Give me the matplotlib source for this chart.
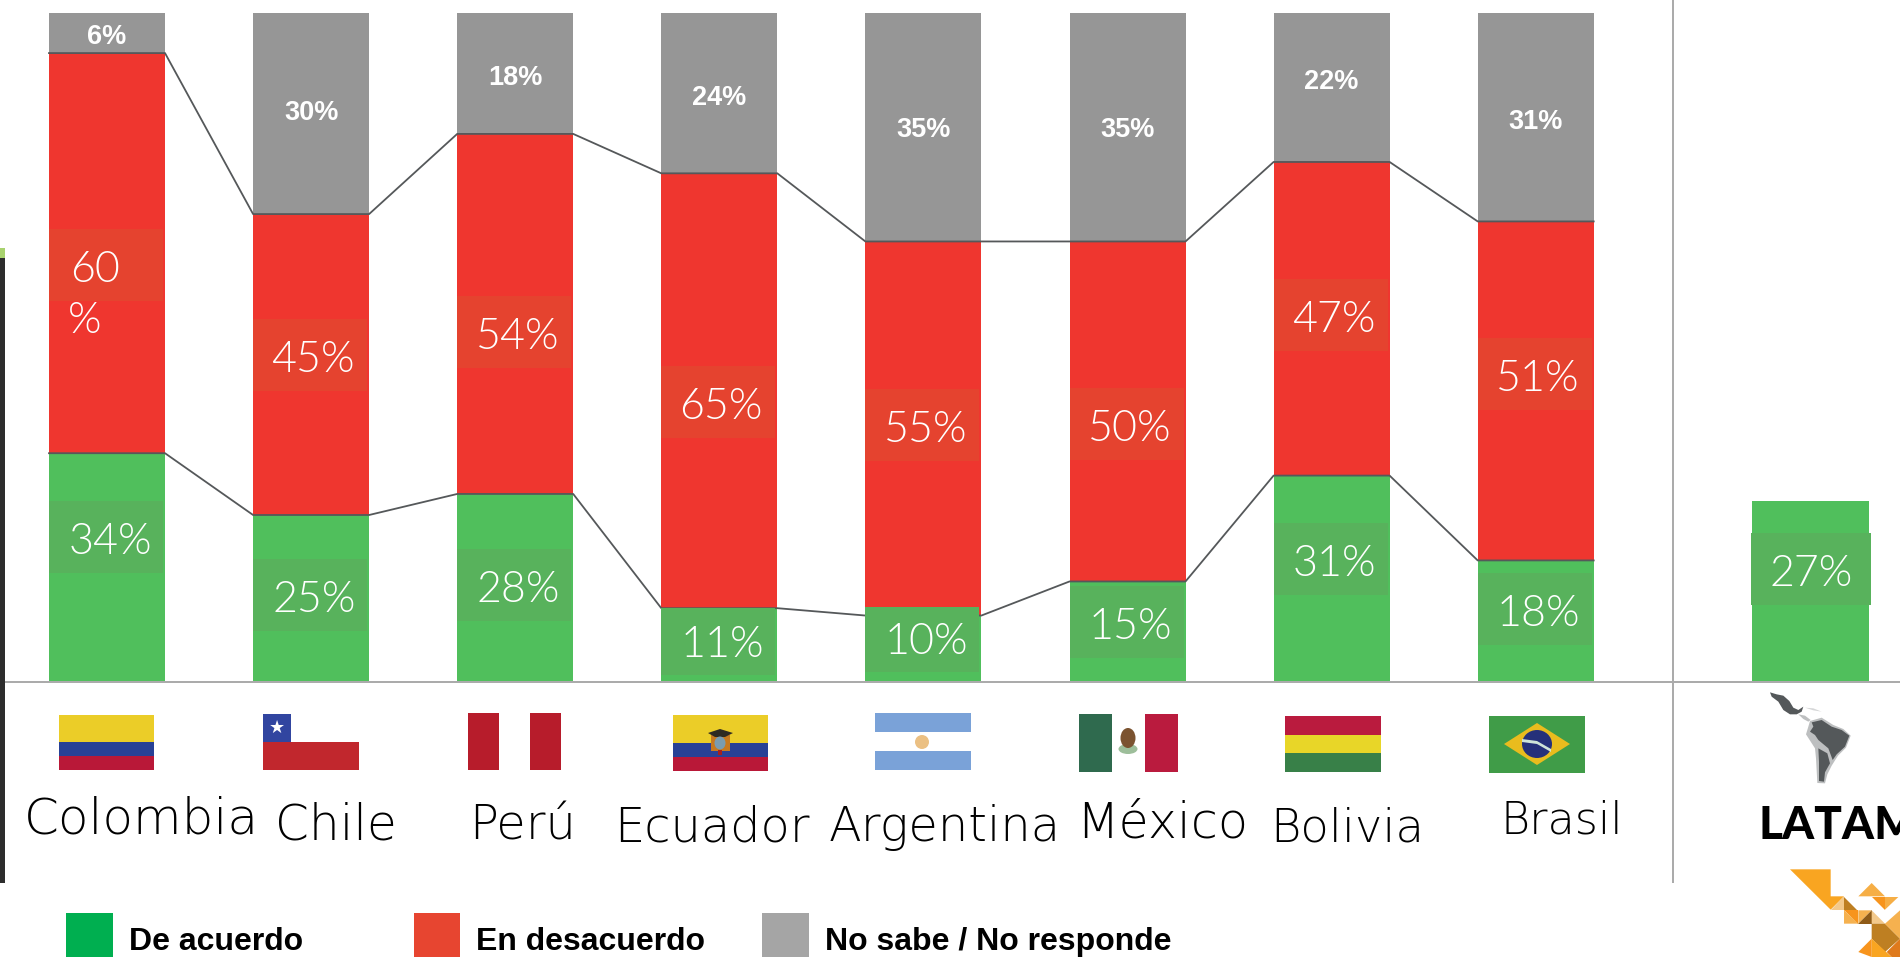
import matplotlib
matplotlib.use("Agg")
import matplotlib.pyplot as plt
import numpy as np
from matplotlib.patches import Rectangle, Polygon, Circle, Ellipse
from matplotlib.transforms import Affine2D

W, H = 1900, 957

### Data ###

countries = ["Colombia", "Chile", "Perú", "Ecuador", "Argentina", "México", "Bolivia", "Brasil"]
# printed percentages
de_acuerdo = [34, 25, 28, 11, 10, 15, 31, 18]
en_desacuerdo = [60, 45, 54, 65, 55, 50, 47, 51]
no_sabe = [6, 30, 18, 24, 35, 35, 22, 31]
# segment heights as measured on the bars, they differ a bit from the printed numbers
h_acuerdo = [34.1, 24.85, 28.0, 10.9, 9.8, 14.9, 30.75, 18.05]
h_desacuerdo = [59.9, 45.05, 53.9, 65.1, 56.0, 50.9, 46.95, 50.75]
h_no_sabe = [6.0, 30.1, 18.1, 24.0, 34.2, 34.2, 22.3, 31.2]
latam_name = "LATAM"
latam_acuerdo = 27
legend_labels = ["De acuerdo", "En desacuerdo", "No sabe / No responde"]

### Layout, in reference pixels ###

bar_left = 49
bar_step = 204.1
bar_w = 116
latam_left = 1752
latam_w = 117
base_y = 681
px_per_pct = 6.68
name_x = [24, 275, 469, 614, 829, 1076, 1270, 1501]
name_base = [834, 840, 840, 841, 841, 838, 841, 833]
name_size = [36, 35, 34.5, 34.5, 34.5, 35.5, 33.5, 32]
red_box = [229, 319, 296, 366, 389, 388, 279, 338]
green_box = [501, 559, 549, 608, 607, 586, 523, 573]
green_box_h = [72, 72, 72, 67, 65, 72, 72, 72]
green_text = [554, 612, 602, 657, 654, 639, 576, 626]
gray_text = [37, 113, 78, 98, 130, 130, 82, 122]

GREEN = "#50BF5C"
RED = "#EF362F"
GRAY = "#969696"
GREEN_BOX = "#58B25C"
RED_BOX = "#E5432F"
LINE = "#55585A"
RULE = "#ABABAB"
NUM_FONT = "Lato"
NUM_WEIGHT = 300
NAME_FONT = "DejaVu Sans"
NAME_WEIGHT = 200

fig = plt.figure(figsize=(W / 100, H / 100), dpi=100)
ax = fig.add_axes([0, 0, 1, 1])
ax.set_xlim(0, W)
ax.set_ylim((base_y - H) / px_per_pct, base_y / px_per_pct)
ax.axis("off")

# pixel coordinates of the reference, y downwards
px = Affine2D().scale(1 / W, -1 / H).translate(0, 1) + fig.transFigure


def rect(x0, y0, x1, y1, color, z=5):
    ax.add_patch(Rectangle((x0, y0), x1 - x0, y1 - y0, fc=color, ec="none", transform=px, zorder=z))


def poly(points, color, z=5, off=(0, 0), sc=1.0):
    pts = [(off[0] + a * sc, off[1] + b * sc) for a, b in points]
    ax.add_patch(Polygon(pts, closed=True, fc=color, ec="none", transform=px, zorder=z))


def text(x, y, s, size, color="black", weight="normal", family="Lato", ha="left", va="baseline", z=8):
    return ax.text(x, y, s, fontsize=size, color=color, fontweight=weight, family=family,
                   ha=ha, va=va, transform=px, zorder=z, clip_on=True)


def num(x, y, s, ha="center"):
    return text(x, y, s, 31, "white", NUM_WEIGHT, NUM_FONT, ha=ha)


### Bars ###

lefts = bar_left + bar_step * np.arange(len(countries))
a = np.array(h_acuerdo)
d = np.array(h_desacuerdo)
n = np.array(h_no_sabe)
ax.bar(lefts, a, bar_w, align="edge", color=GREEN, zorder=2)
ax.bar(lefts, d, bar_w, bottom=a, align="edge", color=RED, zorder=2)
ax.bar(lefts, n, bar_w, bottom=a + d, align="edge", color=GRAY, zorder=2)
ax.bar([latam_left], [latam_acuerdo], latam_w, align="edge", color=GREEN, zorder=2)

# connecting lines between the bars
xs = np.ravel(np.column_stack((lefts, lefts + bar_w)))
ax.plot(xs, np.repeat(a, 2), color=LINE, lw=1.3, zorder=5)
ax.plot(xs, np.repeat(a + d, 2), color=LINE, lw=1.3, zorder=5)

### Value labels ###

for i, left in enumerate(lefts):
    cx = left + bar_w / 2
    rect(left, red_box[i], left + 114, red_box[i] + 72, RED_BOX, 4)
    rect(left, green_box[i], left + 114, green_box[i] + green_box_h[i], GREEN_BOX, 6)
    if i == 0:
        num(left + 21, red_box[i] + 53, f"{en_desacuerdo[i]}", ha="left")
        num(left + 19, red_box[i] + 104, "%", ha="left")
    else:
        num(cx + 2, red_box[i] + 53, f"{en_desacuerdo[i]}%")
    num(cx + 3, green_text[i], f"{de_acuerdo[i]}%")
    text(cx, gray_text[i], f"{no_sabe[i]}%", 19.5, "white", "bold", "Liberation Sans", ha="center", va="center")

rect(latam_left - 1, 533, 1871, 605, GREEN_BOX, 4)
num(1811, 586, f"{latam_acuerdo}%")

### Rules ###

rect(0, 681, W, 683, RULE, 3)
rect(1672, 0, 1674, 883, RULE, 3)
rect(0, 258, 5, 883, "#2D2D2D", 3)
rect(0, 248, 5, 258, "#A8D26E", 3)

### Country names ###

for x, y, name, size in zip(name_x, name_base, countries, name_size):
    text(x, y, name, size, "black", NAME_WEIGHT, NAME_FONT)
text(1758, 839, latam_name, 33, "black", "black", "Lato")

### Flags ###

# Colombia
rect(59, 715, 154, 742, "#EBCD28")
rect(59, 742, 154, 756, "#284196")
rect(59, 756, 154, 770, "#B91838")
# Chile
rect(263, 714, 291, 742, "#3145A0")
rect(263, 742, 359, 770, "#C1272D")
text(277, 728, "★", 13, "white", family="DejaVu Sans", ha="center", va="center")
# Perú
rect(468, 713, 499, 770, "#B71C2B")
rect(530, 713, 561, 770, "#B71C2B")
# Ecuador
rect(673, 715, 768, 743, "#EBCD28")
rect(673, 743, 768, 757, "#284196")
rect(673, 757, 768, 771, "#B91838")
rect(711, 735, 730, 751, "#C8791E", 6)
poly([(708, 733), (720, 729), (733, 733), (725, 737), (715, 737)], "#2E2A22", 6)
ax.add_patch(Ellipse((720, 743), 11, 13, fc="#7A9CB0", ec="none", transform=px, zorder=7))
rect(718, 750, 722, 755, "#A3201E", 7)
# Argentina
rect(875, 713, 971, 732, "#7AA2D8")
rect(875, 751, 971, 770, "#7AA2D8")
ax.add_patch(Circle((922, 742), 7, fc="#EBC083", ec="none", transform=px, zorder=6))
# México
rect(1079, 714, 1112, 772, "#2F6A4E")
rect(1145, 714, 1178, 772, "#BA1B3E")
ax.add_patch(Ellipse((1128, 738), 15, 20, fc="#7B5330", ec="none", transform=px, zorder=6))
ax.add_patch(Ellipse((1128, 749), 19, 10, fc="#9DBE9A", ec="none", transform=px, zorder=5))
# Bolivia
rect(1285, 716, 1381, 735, "#BA1B3E")
rect(1285, 735, 1381, 753, "#E8D628")
rect(1285, 753, 1381, 772, "#388048")
# Brasil
rect(1489, 716, 1585, 773, "#409C48")
poly([(1504, 744), (1537, 723), (1570, 744), (1537, 765)], "#E9BC1E", 6)
ax.add_patch(Ellipse((1537, 744), 30, 28, fc="#25307A", ec="none", transform=px, zorder=7))
poly([(1522, 739), (1537, 741), (1551, 749), (1551, 752), (1537, 744), (1522, 742)], "#CFE4D8", 8)

### Map of Latin America ###

m_off = (1750, 685)
m_sc = 1 / 3
poly([(145, 88), (165, 92), (182, 105), (175, 110), (160, 102)], "#BDBFC0", 5, m_off, m_sc)
poly([(180, 108), (215, 98), (250, 120), (280, 132), (302, 152), (288, 188), (264, 212), (245, 242),
      (232, 268), (225, 295), (202, 294), (198, 220), (195, 190), (168, 148), (175, 125)],
     "#BDBFC0", 5, m_off, m_sc)
poly([(60, 22), (80, 28), (100, 32), (118, 48), (130, 68), (145, 75), (160, 65), (155, 80), (140, 88),
      (120, 88), (100, 75), (85, 50), (65, 35)], "#54585A", 6, m_off, m_sc)
poly([(185, 112), (215, 105), (245, 125), (275, 135), (298, 152), (285, 185), (260, 208), (248, 225),
      (235, 190), (205, 165), (195, 150), (180, 140), (190, 125)], "#54585A", 6, m_off, m_sc)
poly([(205, 190), (232, 205), (240, 235), (225, 262), (222, 290), (207, 288), (207, 230)], "#54585A", 6, m_off, m_sc)
poly([(165, 68), (190, 70), (215, 80), (190, 76)], "#D5D6D7", 5, m_off, m_sc)

### Logo ###

l_off = (1770, 857)
l_sc = 1 / 3
logo_parts = [
    ([(60, 37), (182, 37), (182, 118), (222, 118), (182, 158)], "#F9A521"),
    ([(222, 118), (222, 160), (182, 160)], "#F3C98B"),
    ([(222, 120), (262, 160), (222, 160)], "#BE7F22"),
    ([(305, 78), (345, 118), (265, 118)], "#F6AE45"),
    ([(305, 120), (345, 120), (345, 158)], "#F7941D"),
    ([(345, 120), (385, 120), (345, 158)], "#F6AE45"),
    ([(222, 160), (265, 160), (265, 200)], "#F7941D"),
    ([(222, 160), (265, 200), (222, 200)], "#F5B14F"),
    ([(265, 160), (305, 160), (265, 200)], "#F5B14F"),
    ([(265, 200), (305, 200), (305, 160)], "#8F5B17"),
    ([(305, 160), (345, 200), (305, 200)], "#F3C98B"),
    ([(305, 200), (345, 200), (390, 245), (345, 285), (305, 245)], "#BE7F22"),
    ([(345, 200), (390, 160), (390, 245)], "#F5B14F"),
    ([(305, 245), (365, 300), (305, 300)], "#F9A521"),
    ([(305, 245), (305, 300), (265, 285)], "#F7941D"),
    ([(390, 245), (350, 285), (365, 300), (390, 300)], "#DF7A1C"),
]
for pts, col in logo_parts:
    poly(pts, col, 5, l_off, l_sc)

### Legend ###

rect(66, 913, 113, 957, "#00AF50")
rect(414, 913, 460, 957, "#E74530")
rect(762, 913, 809, 957, "#A5A5A5")
for x, lab in zip([129, 476, 825], legend_labels):
    text(x, 950, lab, 23, "black", "bold", "Liberation Sans")

fig.savefig("out.png", dpi=100)
